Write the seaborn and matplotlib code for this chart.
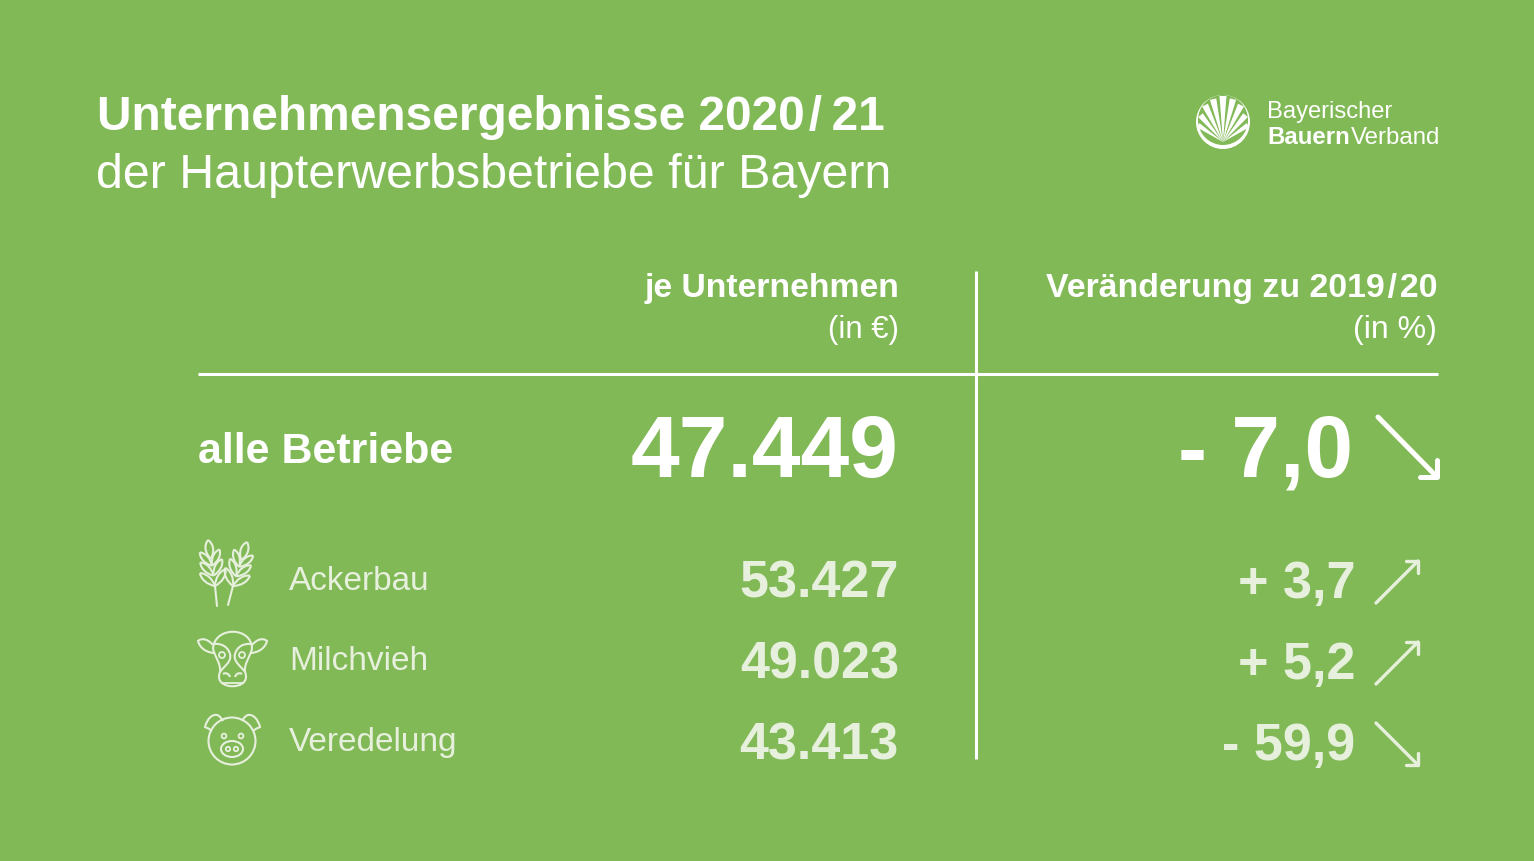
import numpy as np
import matplotlib
matplotlib.use("Agg")
import matplotlib.pyplot as plt
from matplotlib.patches import Ellipse, Circle, Polygon, PathPatch
from matplotlib.path import Path
import seaborn as sns

# data
categories = ["Ackerbau", "Milchvieh", "Veredelung"]
values = ["53.427", "49.023", "43.413"]
changes = [3.7, 5.2, -59.9]
total_label = "alle Betriebe"
total_value = "47.449"
total_change = -7.0

BG = "#82b957"
WHITE = "#ffffff"
PALE = "#e6f0dc"
FONT = "Liberation Sans"

sns.set_theme(style="white")
plt.rcParams["font.family"] = [FONT, "DejaVu Sans"]

fig, ax = plt.subplots(figsize=(15.34, 8.62), dpi=100, facecolor=BG)
ax.set_position([0, 0, 1, 1])
ax.set_xlim(0, 1534)
ax.set_ylim(862, 0)
ax.set_facecolor(BG)
ax.axis("off")


def txt(x, y, s, size, bold=False, ha="left", color=WHITE):
    ax.text(x, y, s, fontsize=size, fontweight="bold" if bold else "normal",
            ha=ha, va="baseline", color=color)


def line(xs, ys, color=WHITE, lw=2.0, cap="round"):
    sns.lineplot(x=xs, y=ys, ax=ax, color=color, lw=lw, sort=False, estimator=None,
                 legend=False, solid_capstyle=cap)


def fmt_change(v):
    sign = "+" if v > 0 else "-"
    return f"{sign} {abs(v):.1f}".replace(".", ",")


def arrow(x0, x1, y_low, y_high, up, head, color, lw):
    # up: runs to the top right, otherwise to the bottom right
    if up:
        line([x0, x1], [y_low, y_high], color, lw)
        line([x1 - head, x1, x1], [y_high, y_high, y_high + head], color, lw)
    else:
        line([x0, x1], [y_high, y_low], color, lw)
        line([x1 - head, x1, x1], [y_low, y_low, y_low - head], color, lw)


def curve(pts, color=PALE, lw=1.5, fill="none"):
    # pts: start point, then triples of cubic bezier points
    codes = [Path.MOVETO] + [Path.CURVE4] * (len(pts) - 1)
    ax.add_patch(PathPatch(Path(pts, codes), fc=fill, ec=color, lw=lw))


def leaf(base, tip, bulge):
    d = tip - base
    n = np.array([d[1], -d[0]]) / np.hypot(*d)
    for side in (1, -1):
        c1 = base + d * 0.35 + n * bulge * side
        c2 = base + d * 0.75 + n * bulge * side
        curve([base, c1, c2, tip])


def wheat(top, bottom, stem_end):
    top, bottom = np.array(top, float), np.array(bottom, float)
    axis = bottom - top
    length = np.hypot(*axis)
    a = axis / length
    n = np.array([a[1], -a[0]])
    leaf(top + a * 19, top, 5)
    for t, spread in [(26, 10), (36, 11), (length, 13)]:
        p = top + a * t
        for side in (1, -1):
            leaf(p, p - a * 15 + n * spread * side, 4)
    line([bottom[0], stem_end[0]], [bottom[1], stem_end[1]], PALE, 1.5)


def cow():
    curve([(213, 650), (214, 627), (252, 627), (252, 650)])
    curve([(213, 650), (216, 660), (221, 665), (220, 673),
           (212, 692), (253, 692), (245, 673),
           (244, 665), (249, 660), (252, 650)])
    # ears
    curve([(213, 646), (206, 638), (200, 640), (198, 642), (200, 650), (208, 654), (215, 654)])
    curve([(252, 646), (259, 638), (265, 640), (267, 642), (265, 650), (257, 654), (250, 654)])
    # face patches
    curve([(213, 645), (222, 644), (228, 648), (230, 655), (232, 663), (224, 667), (220, 673)])
    curve([(252, 645), (243, 644), (237, 648), (235, 655), (233, 663), (241, 667), (245, 673)])
    for x in (222, 242):
        ax.add_patch(Circle((x, 656), 3, fc="none", ec=PALE, lw=1.3))
    curve([(223, 675), (226, 673), (229, 675), (230, 678)])
    curve([(242, 675), (239, 673), (236, 675), (235, 678)])
    line([223, 243], [684, 684], PALE, 1.3)


def pig():
    ax.add_patch(Ellipse((232, 742), 47, 47, fc="none", ec=PALE, lw=1.5))
    curve([(212, 732), (207, 728), (206, 729), (205, 728), (207, 720), (212, 715), (217, 716),
           (220, 717), (222, 720), (223, 722)])
    curve([(253, 732), (258, 728), (259, 729), (260, 728), (258, 720), (253, 715), (248, 716),
           (245, 717), (243, 720), (242, 722)])
    for x in (224, 241):
        ax.add_patch(Circle((x, 737), 2.4, fc="none", ec=PALE, lw=1.3))
    ax.add_patch(Ellipse((232, 750), 22, 16, fc="none", ec=PALE, lw=1.5))
    for x in (228, 236):
        ax.add_patch(Circle((x, 750), 2.2, fc="none", ec=PALE, lw=1.3))


def logo():
    cx, cy = 1223, 123
    ax.add_patch(Circle((cx, cy), 27, fc=WHITE, ec="none"))
    ax.add_patch(Circle((cx, cy - 2), 25, fc=BG, ec="none"))
    # fan of rays converging at the bottom
    base = np.array([cx, cy + 20])
    for ang, ln, w in [(0, 46, 7), (-13, 44, 6.5), (13, 44, 6.5), (-26, 41, 6.5), (26, 41, 6.5),
                       (-40, 35, 6), (40, 35, 6), (-56, 30, 5), (56, 30, 5)]:
        t = np.deg2rad(ang)
        d = np.array([np.sin(t), -np.cos(t)])
        n = np.array([d[1], -d[0]])
        ax.add_patch(Polygon([base, base + d * ln + n * w / 2, base + d * ln - n * w / 2],
                             closed=True, fc=WHITE, ec="none"))


# title
txt(97, 130, "Unternehmensergebnisse 2020\u200a/\u200921", 34.5, bold=True)
txt(96, 188, "der Haupterwerbsbetriebe für Bayern", 34.8)

# logo
logo()
txt(1267, 118, "Bayerischer", 17.1)
txt(1267, 144, "Bauern", 17.3, bold=True)
txt(1351, 144, "Verband", 17.3)

# header
txt(899, 297, "je Unternehmen", 24.3, bold=True, ha="right")
txt(899, 338, "(in €)", 22.5, ha="right")
txt(1437, 297, "Veränderung zu 2019\u200a/\u200a20", 24.4, bold=True, ha="right")
txt(1437, 338, "(in %)", 23, ha="right")

# rules
line([198, 1438], [375, 375], WHITE, 2.2, "butt")
line([976, 976], [272, 760], WHITE, 2.2, "butt")

# total row
txt(198, 463, total_label, 31, bold=True)
txt(899, 477, total_value, 63, bold=True, ha="right")
txt(1353, 477, fmt_change(total_change), 63, bold=True, ha="right")
arrow(1378, 1437, 478, 418, total_change > 0, 17, WHITE, 3.6)

# category rows
label_y = [590, 670, 751]
value_y = [598, 679, 760]
for name, val, ch, ly, vy in zip(categories, values, changes, label_y, value_y):
    txt(289, ly, name, 24, color=PALE)
    txt(899, vy, val, 37.5, bold=True, ha="right", color=PALE)
    txt(1355, vy, fmt_change(ch), 37.5, bold=True, ha="right", color=PALE)
    arrow(1376, 1418, vy + 6, vy - 36, ch > 0, 12, PALE, 2.4)

# icons
wheat((208, 541), (215, 587), (217, 607))
wheat((247, 543), (233, 587), (228, 606))
cow()
pig()

fig.savefig("out.png", dpi=100, facecolor=BG)
